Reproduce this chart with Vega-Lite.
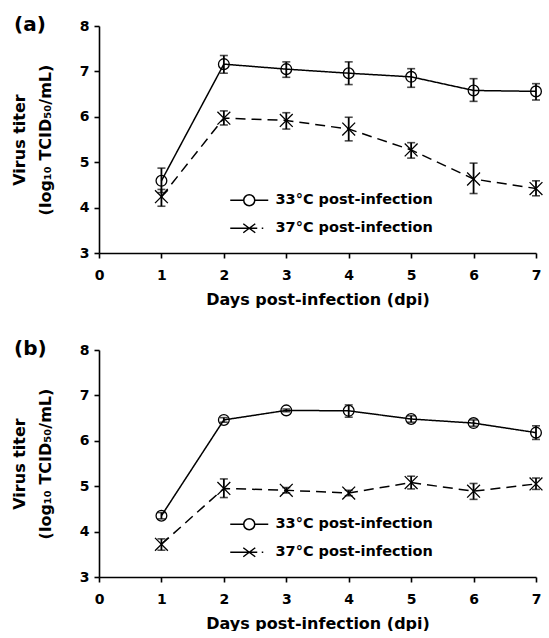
{
  "$schema": "https://vega.github.io/schema/vega-lite/v6.json",
  "background": "white",
  "padding": {"left": 11, "top": 15, "right": 0, "bottom": 0},
  "config": {
    "view": {"stroke": null},
    "font": "DejaVu Sans",
    "axis": {
      "grid": false,
      "domainColor": "black", "domainWidth": 1.6,
      "tickColor": "black", "tickWidth": 1.6, "tickSize": 5,
      "labelFont": "DejaVu Sans", "labelFontWeight": "bold", "labelFontSize": 14, "labelColor": "black",
      "titleFont": "DejaVu Sans", "titleFontWeight": "bold", "titleFontSize": 16, "titleColor": "black"
    },
    "legend": {
      "orient": "none", "legendX": 143, "legendY": 167, "title": null, "symbolSize": 100,
      "symbolStrokeColor": "black", "symbolStrokeWidth": 1.5, "symbolFillColor": "transparent", "symbolOpacity": 1,
      "labelFont": "DejaVu Sans", "labelFontWeight": "bold", "labelFontSize": 14.5, "labelColor": "black",
      "labelOffset": 19, "labelLimit": 400, "rowPadding": 11
    },
    "title": {"font": "DejaVu Sans", "fontWeight": "bold", "fontSize": 20, "color": "black"},
    "concat": {"spacing": 32}
  },
  "datasets": {
    "titer": [
      {"panel": "a", "temp": "33°C post-infection", "day": 1, "mean": 4.59, "lo": 4.33, "hi": 4.87},
      {"panel": "a", "temp": "33°C post-infection", "day": 2, "mean": 7.16, "lo": 6.96, "hi": 7.35},
      {"panel": "a", "temp": "33°C post-infection", "day": 3, "mean": 7.05, "lo": 6.87, "hi": 7.21},
      {"panel": "a", "temp": "33°C post-infection", "day": 4, "mean": 6.96, "lo": 6.71, "hi": 7.21},
      {"panel": "a", "temp": "33°C post-infection", "day": 5, "mean": 6.88, "lo": 6.65, "hi": 7.06},
      {"panel": "a", "temp": "33°C post-infection", "day": 6, "mean": 6.58, "lo": 6.34, "hi": 6.84},
      {"panel": "a", "temp": "33°C post-infection", "day": 7, "mean": 6.56, "lo": 6.37, "hi": 6.73},
      {"panel": "a", "temp": "37°C post-infection", "day": 1, "mean": 4.24, "lo": 4.03, "hi": 4.40},
      {"panel": "a", "temp": "37°C post-infection", "day": 2, "mean": 5.97, "lo": 5.82, "hi": 6.13},
      {"panel": "a", "temp": "37°C post-infection", "day": 3, "mean": 5.92, "lo": 5.73, "hi": 6.09},
      {"panel": "a", "temp": "37°C post-infection", "day": 4, "mean": 5.73, "lo": 5.47, "hi": 5.99},
      {"panel": "a", "temp": "37°C post-infection", "day": 5, "mean": 5.27, "lo": 5.09, "hi": 5.43},
      {"panel": "a", "temp": "37°C post-infection", "day": 6, "mean": 4.63, "lo": 4.31, "hi": 4.98},
      {"panel": "a", "temp": "37°C post-infection", "day": 7, "mean": 4.42, "lo": 4.26, "hi": 4.59},
      {"panel": "b", "temp": "33°C post-infection", "day": 1, "mean": 4.35, "lo": 4.28, "hi": 4.42},
      {"panel": "b", "temp": "33°C post-infection", "day": 2, "mean": 6.46, "lo": 6.41, "hi": 6.51},
      {"panel": "b", "temp": "33°C post-infection", "day": 3, "mean": 6.67, "lo": 6.64, "hi": 6.70},
      {"panel": "b", "temp": "33°C post-infection", "day": 4, "mean": 6.66, "lo": 6.52, "hi": 6.79},
      {"panel": "b", "temp": "33°C post-infection", "day": 5, "mean": 6.48, "lo": 6.41, "hi": 6.55},
      {"panel": "b", "temp": "33°C post-infection", "day": 6, "mean": 6.39, "lo": 6.32, "hi": 6.46},
      {"panel": "b", "temp": "33°C post-infection", "day": 7, "mean": 6.18, "lo": 6.03, "hi": 6.33},
      {"panel": "b", "temp": "37°C post-infection", "day": 1, "mean": 3.72, "lo": 3.59, "hi": 3.84},
      {"panel": "b", "temp": "37°C post-infection", "day": 2, "mean": 4.95, "lo": 4.75, "hi": 5.16},
      {"panel": "b", "temp": "37°C post-infection", "day": 3, "mean": 4.91, "lo": 4.85, "hi": 4.97},
      {"panel": "b", "temp": "37°C post-infection", "day": 4, "mean": 4.85, "lo": 4.79, "hi": 4.91},
      {"panel": "b", "temp": "37°C post-infection", "day": 5, "mean": 5.08, "lo": 4.94, "hi": 5.22},
      {"panel": "b", "temp": "37°C post-infection", "day": 6, "mean": 4.89, "lo": 4.71, "hi": 5.06},
      {"panel": "b", "temp": "37°C post-infection", "day": 7, "mean": 5.05, "lo": 4.93, "hi": 5.18}
    ]
  },
  "resolve": {"scale": {"shape": "independent", "strokeDash": "independent", "size": "independent"}, "legend": {"shape": "independent"}},
  "vconcat": [
    {
      "title": {"text": "(a)", "anchor": "start", "frame": "group", "dx": -85, "offset": -32, "baseline": "alphabetic"},
      "width": 437, "height": 227,
      "data": {"name": "titer"},
      "transform": [{"filter": "datum.panel === 'a'"}],
      "encoding": {
        "x": {"field": "day", "type": "quantitative", "scale": {"domain": [0, 7], "nice": false},
              "axis": {"values": [0, 1, 2, 3, 4, 5, 6, 7], "title": "Days post-infection (dpi)", "labelPadding": 10, "titlePadding": 9, "labelFlush": false}},
        "y": {"field": "mean", "type": "quantitative", "scale": {"domain": [3, 8], "nice": false, "zero": false},
              "axis": {"values": [3, 4, 5, 6, 7, 8], "title": ["Virus titer", "(log₁₀ TCID₅₀/mL)"], "titleLineHeight": 26, "labelPadding": 5, "titlePadding": 26, "labelFlush": false}}
      },
      "resolve": {"scale": {"shape": "independent"}, "legend": {"shape": "independent"}},
      "layer": [
        {"mark": {"type": "rule", "color": "black", "strokeWidth": 1.8}, "encoding": {"y": {"field": "lo", "type": "quantitative"}, "y2": {"field": "hi"}}},
        {"mark": {"type": "tick", "orient": "horizontal", "color": "black", "size": 8, "thickness": 1.6}, "encoding": {"y": {"field": "lo", "type": "quantitative"}}},
        {"mark": {"type": "tick", "orient": "horizontal", "color": "black", "size": 8, "thickness": 1.6}, "encoding": {"y": {"field": "hi", "type": "quantitative"}}},
        {"mark": {"type": "line", "color": "black", "strokeWidth": 1.5},
         "encoding": {"strokeDash": {"field": "temp", "type": "nominal", "scale": {"range": [[1, 0], [10, 6]]}, "legend": null}}},
        {"mark": {"type": "point", "filled": false, "stroke": "black", "strokeWidth": 1.3, "opacity": 1},
         "encoding": {"shape": {"field": "temp", "type": "nominal", "scale": {"range": ["circle", "M-1,-1L1,1M-1,1L1,-1"]}, "legend": null},
                      "size": {"field": "temp", "type": "nominal", "scale": {"range": [115, 165]}, "legend": null}}},
        {"mark": {"type": "point", "filled": false, "stroke": "black", "strokeWidth": 1.5, "opacity": 0},
         "encoding": {"shape": {"field": "temp", "type": "nominal",
           "scale": {"range": ["M-3.8,0L-1.1,0M1.1,0L3.8,0M-1.1,0A1.1,1.1 0 1 1 1.1,0A1.1,1.1 0 1 1 -1.1,0", "M-3.8,0L1.6,0M-1.2,-0.9L1.2,0.9M-1.2,0.9L1.2,-0.9M2.5,0L2.8,0"]},
           "legend": {"symbolOpacity": 1}}}}
      ]
    },
    {
      "title": {"text": "(b)", "anchor": "start", "frame": "group", "dx": -85, "offset": -32, "baseline": "alphabetic"},
      "width": 437, "height": 227,
      "data": {"name": "titer"},
      "transform": [{"filter": "datum.panel === 'b'"}],
      "encoding": {
        "x": {"field": "day", "type": "quantitative", "scale": {"domain": [0, 7], "nice": false},
              "axis": {"values": [0, 1, 2, 3, 4, 5, 6, 7], "title": "Days post-infection (dpi)", "labelPadding": 10, "titlePadding": 9, "labelFlush": false}},
        "y": {"field": "mean", "type": "quantitative", "scale": {"domain": [3, 8], "nice": false, "zero": false},
              "axis": {"values": [3, 4, 5, 6, 7, 8], "title": ["Virus titer", "(log₁₀ TCID₅₀/mL)"], "titleLineHeight": 26, "labelPadding": 5, "titlePadding": 26, "labelFlush": false}}
      },
      "resolve": {"scale": {"shape": "independent"}, "legend": {"shape": "independent"}},
      "layer": [
        {"mark": {"type": "rule", "color": "black", "strokeWidth": 1.8}, "encoding": {"y": {"field": "lo", "type": "quantitative"}, "y2": {"field": "hi"}}},
        {"mark": {"type": "tick", "orient": "horizontal", "color": "black", "size": 8, "thickness": 1.6}, "encoding": {"y": {"field": "lo", "type": "quantitative"}}},
        {"mark": {"type": "tick", "orient": "horizontal", "color": "black", "size": 8, "thickness": 1.6}, "encoding": {"y": {"field": "hi", "type": "quantitative"}}},
        {"mark": {"type": "line", "color": "black", "strokeWidth": 1.5},
         "encoding": {"strokeDash": {"field": "temp", "type": "nominal", "scale": {"range": [[1, 0], [10, 6]]}, "legend": null}}},
        {"mark": {"type": "point", "filled": false, "stroke": "black", "strokeWidth": 1.3, "opacity": 1},
         "encoding": {"shape": {"field": "temp", "type": "nominal", "scale": {"range": ["circle", "M-1,-1L1,1M-1,1L1,-1"]}, "legend": null},
                      "size": {"field": "temp", "type": "nominal", "scale": {"range": [115, 165]}, "legend": null}}},
        {"mark": {"type": "point", "filled": false, "stroke": "black", "strokeWidth": 1.5, "opacity": 0},
         "encoding": {"shape": {"field": "temp", "type": "nominal",
           "scale": {"range": ["M-3.8,0L-1.1,0M1.1,0L3.8,0M-1.1,0A1.1,1.1 0 1 1 1.1,0A1.1,1.1 0 1 1 -1.1,0", "M-3.8,0L1.6,0M-1.2,-0.9L1.2,0.9M-1.2,0.9L1.2,-0.9M2.5,0L2.8,0"]},
           "legend": {"symbolOpacity": 1}}}}
      ]
    }
  ]
}
